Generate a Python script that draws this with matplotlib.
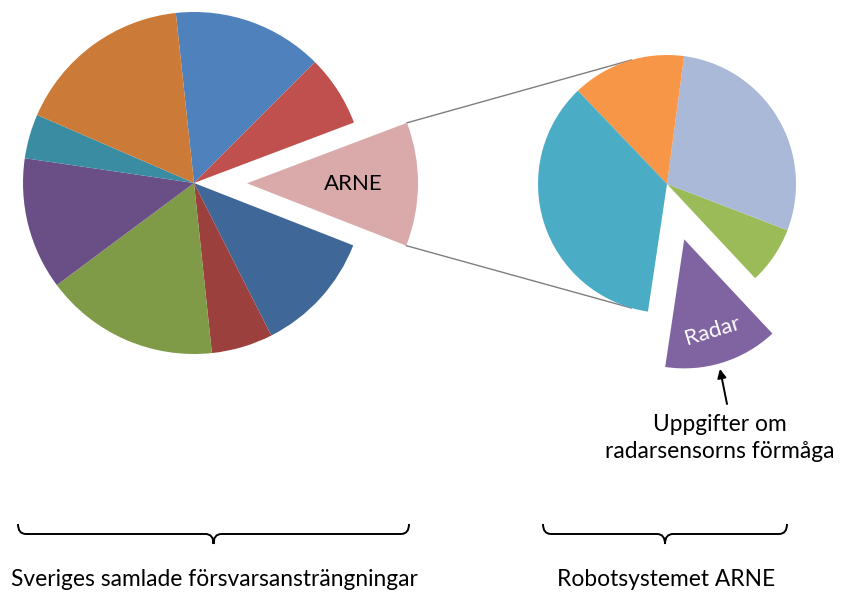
import numpy as np
import matplotlib
matplotlib.use("Agg")
import matplotlib.pyplot as plt
from matplotlib.path import Path
from matplotlib.patches import PathPatch

plt.rcParams['font.family'] = ['Lato', 'DejaVu Sans']

# ---- data ----
main_labels = ["", "", "ARNE", "", "", "", "", "", ""]
main_values = [14.2, 6.75, 11.7, 11.6, 5.8, 16.5, 12.5, 4.2, 16.8]
main_colors = ["#4F81BD", "#C0504D", "#D9AAA9", "#3F6899", "#9C403D",
               "#7F9B48", "#6A4F86", "#3A8CA2", "#CB7B37"]
main_explode = [0, 0, 53, 0, 0, 0, 0, 0, 0]

sub_labels = ["", "", "", "", "Radar"]
sub_values = [25.9, 103.4, 51.3, 127.8, 51.6]
sub_colors = ["#9BBB59", "#A9B9D7", "#F79646", "#4BACC6", "#8064A2"]
sub_explode = [0, 0, 0, 0, 58]

group_titles = ["Sveriges samlade försvarsansträngningar", "Robotsystemet ARNE"]
note_text = "Uppgifter om\nradarsensorns förmåga"

W, H = 845, 592
fig = plt.figure(figsize=(W / 100, H / 100), dpi=100)
ax = fig.add_axes([0, 0, 1, 1])

def py(y):
    return H - y

# main pie
c1 = (194, py(183)); r1 = 171
w1, t1 = ax.pie(main_values, colors=main_colors, explode=main_explode,
                startangle=96.1, counterclock=False, center=c1, radius=r1,
                labels=main_labels, labeldistance=0.62,
                wedgeprops=dict(linewidth=0))
for t in t1:
    t.set_ha('center'); t.set_va('center'); t.set_fontsize(16); t.set_color('black')

# second pie
c2 = (667, py(184)); r2 = 129
w2, t2 = ax.pie(sub_values, colors=sub_colors, explode=sub_explode,
                startangle=-46.9, counterclock=True, center=c2, radius=r2,
                labels=sub_labels, labeldistance=0.74,
                wedgeprops=dict(linewidth=0))
for t in t2:
    t.set_ha('center'); t.set_va('center'); t.set_fontsize(16); t.set_color('white')
    t.set_rotation(17)

# connector lines from ARNE wedge outer corners to second pie
arne = w1[2]
ac = arne.center
for ang_a, ang_b in [(arne.theta2, 106), (arne.theta1, -106)]:
    xa = ac[0] + r1 * np.cos(np.radians(ang_a))
    ya = ac[1] + r1 * np.sin(np.radians(ang_a))
    xb = c2[0] + r2 * np.cos(np.radians(ang_b))
    yb = c2[1] + r2 * np.sin(np.radians(ang_b))
    ax.plot([xa, xb], [ya, yb], color='#7F7F7F', lw=1.0, zorder=0)

# braces
def brace(x0, x1, ytop, ymid, ytip):
    xm = (x0 + x1) / 2
    verts = [(x0, ytop), (x0, ymid), (x0 + 8, ymid), (x0 + 8, ymid),
             (xm - 8, ymid), (xm - 8, ymid), (xm, ymid), (xm, ytip),
             (xm, ymid), (xm + 8, ymid), (xm + 8, ymid),
             (x1 - 8, ymid), (x1 - 8, ymid), (x1, ymid), (x1, ytop)]
    codes = [Path.MOVETO, Path.CURVE3, Path.CURVE3, Path.LINETO,
             Path.LINETO, Path.LINETO, Path.CURVE3, Path.CURVE3,
             Path.CURVE3, Path.CURVE3, Path.LINETO,
             Path.LINETO, Path.LINETO, Path.CURVE3, Path.CURVE3]
    verts = [(x, py(y)) for x, y in verts]
    ax.add_patch(PathPatch(Path(verts, codes), fill=False, lw=1.4, color='black'))

brace(18, 409, 524, 534, 544)
brace(543, 787, 524, 534, 544)

ax.text(214, py(580), group_titles[0], ha='center', va='center', fontsize=16.4)
ax.text(666, py(580), group_titles[1], ha='center', va='center', fontsize=16.4)

# annotation
ax.text(720, py(438), note_text, ha='center', va='center', fontsize=16.4,
        linespacing=1.35)
ax.annotate('', xy=(720, py(369)), xytext=(727, py(404)),
            arrowprops=dict(arrowstyle='-|>', color='black', lw=1.4,
                            shrinkA=0, shrinkB=0, mutation_scale=13))

ax.set_xlim(0, W); ax.set_ylim(0, H)
ax.set_aspect('equal')
ax.axis('off')
fig.savefig('out.png', dpi=100)
